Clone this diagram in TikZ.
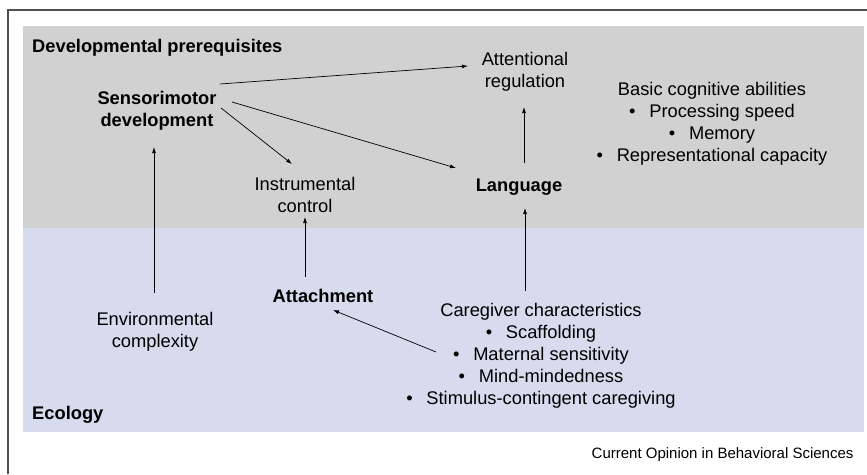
\documentclass[tikz,border=0pt]{standalone}
\usepackage{fontspec}
\setmainfont{Liberation Sans}
\usepackage{xcolor}
\usetikzlibrary{arrows.meta,positioning}

\definecolor{prereqgray}{RGB}{209,209,209}
\definecolor{ecoblue}{RGB}{214,220,238}
\definecolor{framegray}{RGB}{80,80,80}
\newcommand{\itembul}{\textbullet\hspace{0.75em}}

\begin{document}
\begin{tikzpicture}[x=1pt, y=-1pt]
\tikzstyle{factor}=[align=center, inner sep=0pt, text=black, font=\fontsize{18.3}{22}\selectfont]
\tikzstyle{keyfactor}=[factor, font=\fontsize{18.3}{22}\selectfont\bfseries]
\tikzstyle{link}=[-{Latex[length=6pt,width=4pt]}, line width=0.7pt, black]

\useasboundingbox (0,0) rectangle (867,474);
\fill [prereqgray] (23,26) rectangle (864,228);
\fill [ecoblue] (23,228) rectangle (864,432);
\draw [framegray, line width=1.6pt] (8,474) -- (8,10) -- (867,10);

\node (prereq) at (32,52) [keyfactor, anchor=base west] {Developmental prerequisites};
\node (ecology) at (32,419) [keyfactor, anchor=base west] {Ecology};

\node (sens) at (157,111) [keyfactor] {Sensorimotor\\development};
\node (attn) at (525,72) [factor] {Attentional\\regulation};
\node (basic) at (712,124) [factor] {Basic cognitive abilities\\\itembul Processing speed\\\itembul Memory\\\itembul Representational capacity};
\node (instr) at (305,195) [factor] {Instrumental\\control};
\node (lang) at (519,187) [keyfactor] {Language};

\node (att) at (323,296) [keyfactor] {Attachment};
\node (env) at (155,332) [factor] {Environmental\\complexity};
\node (care) at (541,356) [factor] {Caregiver characteristics\\\itembul Scaffolding\\\itembul Maternal sensitivity\\\itembul Mind-mindedness\\\itembul Stimulus-contingent caregiving};

\draw [link] ([shift={(63,-27)}]sens.center) -- ([shift={(-57,-6)}]attn.center);
\draw [link] ([shift={(64,-3)}]sens.center) -- ([shift={(-13,-31)}]instr.center);
\draw [link] ([shift={(75,-9)}]sens.center) -- ([shift={(-63,-19)}]lang.center);
\draw [link] ([shift={(5,-24)}]lang.center) -- ([shift={(-1,35)}]attn.center);
\draw [link] ([shift={(-1,-39)}]env.center) -- ([shift={(-3,36)}]sens.center);
\draw [link] ([shift={(-18,-19)}]att.center) -- ([shift={(0,22)}]instr.center);
\draw [link] ([shift={(-16,-65)}]care.center) -- ([shift={(6,21)}]lang.center);
\draw [link] ([shift={(-105,-4)}]care.center) -- ([shift={(10,14)}]att.center);

\node (source) at (857,458) [anchor=base east, font=\fontsize{15}{18}\selectfont] {Current Opinion in Behavioral Sciences};
\end{tikzpicture}
\end{document}
